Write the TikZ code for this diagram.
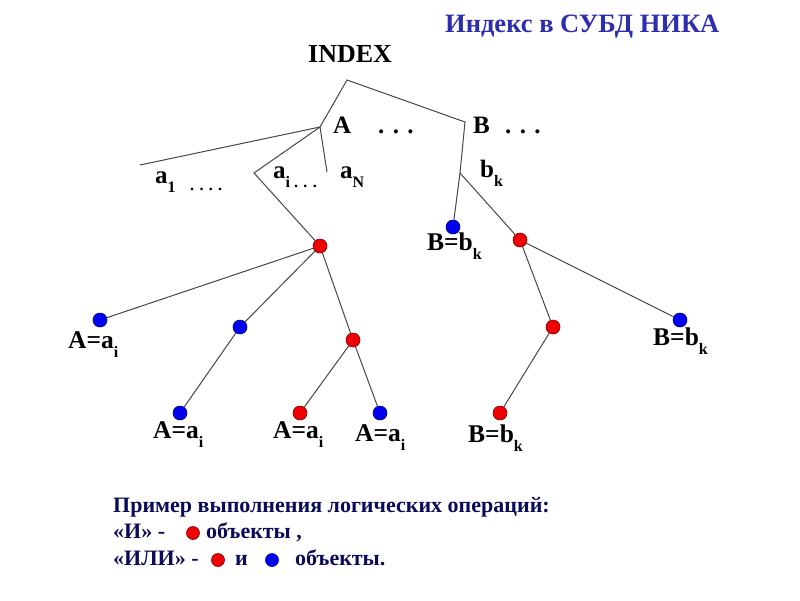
\documentclass[tikz,border=0pt]{standalone}
\usepackage{fontspec}
\setmainfont{Liberation Serif}[BoldFont={Liberation Serif Bold}]
\definecolor{titleblue}{RGB}{45,45,175}
\definecolor{navy}{RGB}{10,10,90}
\definecolor{dotred}{RGB}{240,0,0}
\definecolor{dotblue}{RGB}{0,0,240}
\definecolor{edgegray}{RGB}{70,70,70}
\newcommand\lowsub[1]{\raisebox{-0.36em}{\fontsize{16}{16}\selectfont\bfseries #1}}
\tikzset{
  txt/.style={anchor=base west, inner sep=0pt, font=\fontsize{25}{25}\selectfont\bfseries},
  lbl/.style={anchor=base west, inner sep=0pt, font=\fontsize{25.5}{25}\selectfont\bfseries},
  small/.style={anchor=base west, inner sep=0pt, font=\fontsize{16}{16}\selectfont\bfseries},
  leg/.style={anchor=base west, inner sep=0pt, text=navy, font=\fontsize{22}{22}\selectfont\bfseries},
  rdot/.style={circle, fill=dotred, draw=red!50!black, line width=0.6pt, minimum size=14pt, inner sep=0pt},
  bdot/.style={circle, fill=dotblue, draw=blue!50!black, line width=0.6pt, minimum size=14pt, inner sep=0pt},
  lrdot/.style={rdot, minimum size=13pt},
  lbdot/.style={bdot, minimum size=13pt},
  edge/.style={draw=edgegray, line width=1pt}
}
\begin{document}
\begin{tikzpicture}[x=1pt,y=-1pt]
\useasboundingbox (0,0) rectangle (800,600);
% title
\node[txt, text=titleblue, font=\fontsize{26.5}{26}\selectfont\bfseries] (title) at (445,32) {Индекс в СУБД НИКА};
\node[txt, font=\fontsize{26}{26}\selectfont\bfseries] (index) at (308,62) {INDEX};
% junctions
\coordinate (top) at (347,80);
\coordinate (ja) at (320,127);
\coordinate (jb) at (465,122);
\coordinate (jbk) at (460,173);
\coordinate (e1) at (140,165);
\coordinate (jai) at (254,173);
\coordinate (eN) at (327,172);
% key labels
\node[txt] (la) at (333,133) {A};
\node[txt] (lad) at (378,133) {. . .};
\node[txt] (lb) at (473,133) {B};
\node[txt] (lbd) at (505,133) {. . .};
\node[txt] (a1) at (155,183) {a\lowsub{1}};
\node[small] (a1d) at (190,190) {. . . .};
\node[txt] (ai) at (273,178) {a\lowsub{i . . .}};
\node[txt] (aN) at (340,178) {a\lowsub{N}};
\node[txt] (bk) at (480,177) {b\lowsub{k}};
% dots
\node[rdot] (r0) at (320,246) {};
\node[bdot] (b1) at (100,320) {};
\node[bdot] (b2) at (240,327) {};
\node[rdot] (r3) at (353,340) {};
\node[bdot] (b4) at (180,413) {};
\node[rdot] (r5) at (300,413) {};
\node[bdot] (b6) at (380,413) {};
\node[bdot] (bb) at (453,227) {};
\node[rdot] (rb) at (520,240) {};
\node[rdot] (rb2) at (553,327) {};
\node[bdot] (bb2) at (680,320) {};
\node[rdot] (rb3) at (500,413) {};
% value labels
\node[lbl] (l1) at (68,348) {A=a\lowsub{i}};
\node[lbl] (l2) at (153,438) {A=a\lowsub{i}};
\node[lbl] (l3) at (273,438) {A=a\lowsub{i}};
\node[lbl] (l4) at (355,441) {A=a\lowsub{i}};
\node[lbl] (l5) at (427,250) {B=b\lowsub{k}};
\node[lbl] (l6) at (468,442) {B=b\lowsub{k}};
\node[lbl] (l7) at (653,345) {B=b\lowsub{k}};
% edges
\draw[edge] (ja) -- (top) -- (jb) -- (jbk);
\draw[edge] (e1) -- (ja) -- (eN);
\draw[edge] (ja) -- (jai) -- (r0);
\draw[edge] (r0) -- (b1);
\draw[edge] (r0) -- (b2) -- (b4);
\draw[edge] (r0) -- (r3) -- (r5);
\draw[edge] (r3) -- (b6);
\draw[edge] (jbk) -- (bb);
\draw[edge] (jbk) -- (rb) -- (bb2);
\draw[edge] (rb) -- (rb2) -- (rb3);
% legend
\node[leg] (t1) at (113,512) {Пример выполнения логических операций:};
\node[leg] (t2) at (113,538) {«И» -};
\node[lrdot] (d1) at (193,533) {};
\node[leg] (t3) at (206,538) {объекты ,};
\node[leg] (t4) at (113,565) {«ИЛИ» -};
\node[lrdot] (d2) at (218,560) {};
\node[leg] (t5) at (235,565) {и};
\node[lbdot] (d3) at (272,560) {};
\node[leg] (t6) at (295,565) {объекты.};
\end{tikzpicture}
\end{document}
